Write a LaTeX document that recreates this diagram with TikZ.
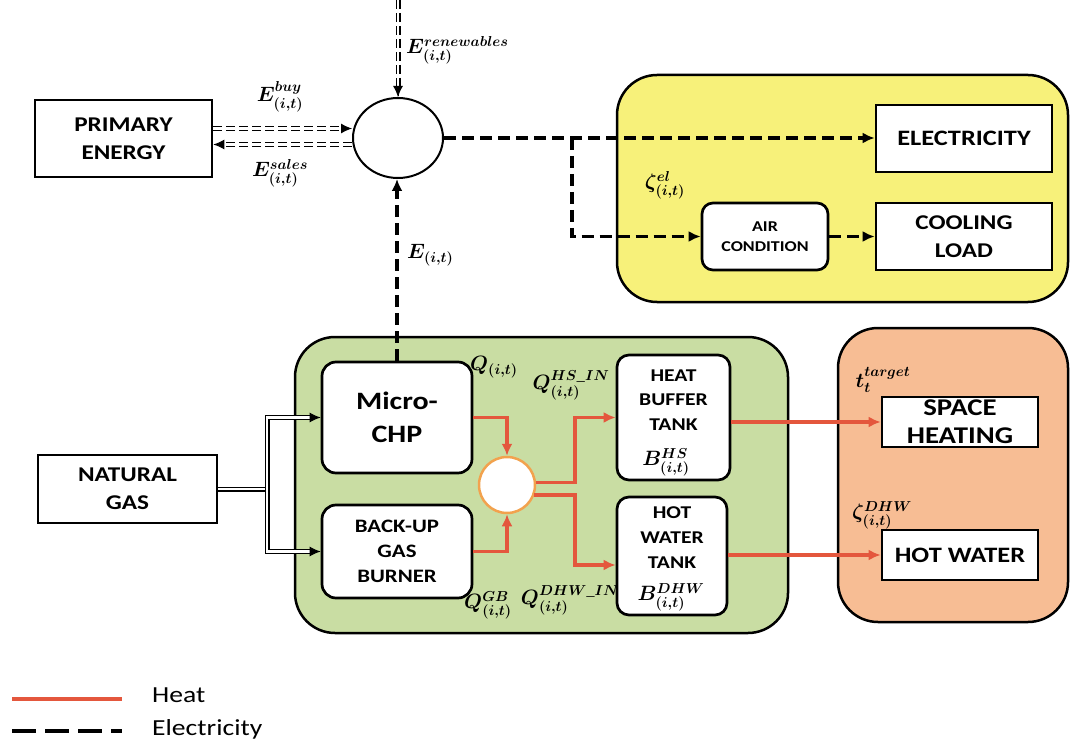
\documentclass[tikz,border=0pt]{standalone}
\usepackage{amsmath}
\usepackage{fontspec}
\setmainfont{Carlito}[FakeStretch=1.2]
\usetikzlibrary{arrows.meta,shapes.geometric,calc}
\definecolor{yellowbg}{HTML}{F7F17A}
\definecolor{greenbg}{HTML}{C9DDA3}
\definecolor{orangebg}{HTML}{F7BD94}
\definecolor{heatred}{HTML}{E4573D}
\definecolor{mixorange}{HTML}{F2A24E}
\tikzset{
  container/.style={draw=black, line width=2.5pt, rounded corners=40pt, inner sep=0pt},
  box/.style={draw=black, line width=2.7pt, fill=white, align=center, inner sep=0pt,
    font=\bfseries\fontsize{21}{28}\selectfont},
  rbox/.style={box, rounded corners=14pt},
  el/.style={draw=black, line width=3.5pt, dash pattern=on 12pt off 6pt},
  elarrow/.style={el, -{Latex[length=12pt,width=11pt]}},
  eld/.style={draw=black, line width=1.2pt, double=white, double distance=2.6pt, dash pattern=on 9pt off 4pt},
  gas/.style={draw=black, line width=1.2pt, double=white, double distance=2.6pt},
  tipa/.style={draw=black, line width=1pt, -{Latex[length=11pt,width=10pt]}},
  heat/.style={draw=heatred, line width=3.5pt, -{Latex[length=12pt,width=11pt]}},
  lab/.style={font=\boldmath\fontsize{20}{22}\selectfont, inner sep=0pt},
  legtext/.style={anchor=west, inner sep=0pt, font=\fontsize{23}{26}\selectfont},
}
\begin{document}
\begin{tikzpicture}[x=1pt,y=-1pt]
\useasboundingbox (0,0) rectangle (1073,743);
% containers
\node[container, fill=yellowbg, minimum width=451pt, minimum height=227pt] (ybox) at (842.5,188.5) {};
\node[container, fill=greenbg, minimum width=493pt, minimum height=296pt] (gbox) at (541.5,485) {};
\node[container, fill=orangebg, minimum width=230pt, minimum height=294pt] (obox) at (953,475) {};
% boxes
\node[box, minimum width=177pt, minimum height=77pt] (pe) at (123.5,138.5) {PRIMARY\\ENERGY};
\node[box, minimum width=179pt, minimum height=68pt] (ng) at (127.5,489) {NATURAL\\GAS};
\node[draw=black, line width=2pt, ellipse, fill=white, minimum width=90pt, minimum height=80pt, inner sep=0pt] (hub) at (398,138) {};
\node[box, minimum width=176pt, minimum height=67pt, font=\bfseries\fontsize{22}{28}\selectfont] (elec) at (964,138.5) {ELECTRICITY};
\node[box, minimum width=176pt, minimum height=67pt] (cool) at (964,236.5) {COOLING\\LOAD};
\node[rbox, minimum width=126pt, minimum height=67pt, rounded corners=11pt,
  font=\bfseries\fontsize{15}{20}\selectfont] (ac) at (765,236.5) {AIR\\CONDITION};
\node[rbox, minimum width=150pt, minimum height=111pt, font=\bfseries\fontsize{25}{33}\selectfont] (mchp) at (397,417.5) {Micro-\\CHP};
\node[rbox, minimum width=150pt, minimum height=93pt, font=\bfseries\fontsize{19}{25}\selectfont] (bgb) at (397,551.5) {BACK-UP\\GAS\\BURNER};
\node[circle, draw=mixorange, line width=2.5pt, fill=white, minimum size=56pt, inner sep=0pt] (mix) at (507,485) {};
\node[rbox, minimum width=113pt, minimum height=125pt, rounded corners=12pt] (hbt) at (673.5,417.5) {};
\node[inner sep=0pt, align=center, font=\bfseries\fontsize{18}{24.5}\selectfont] (hbtt) at (673.5,400) {HEAT\\BUFFER\\TANK};
\node[rbox, minimum width=110pt, minimum height=118pt, rounded corners=12pt] (hwt) at (672,556) {};
\node[inner sep=0pt, align=center, font=\bfseries\fontsize{18}{25}\selectfont] (hwtt) at (672,538) {HOT\\WATER\\TANK};
\node[box, minimum width=156pt, minimum height=50pt, font=\bfseries\fontsize{24}{28}\selectfont] (sh) at (960,422) {SPACE\\HEATING};
\node[box, minimum width=156pt, minimum height=50pt, font=\bfseries\fontsize{22}{28}\selectfont] (hw) at (960,555) {HOT WATER};
% electricity connections
\coordinate (rtop) at (398,0);
\draw[eld, shorten >=9pt] (rtop) -- (hub.north);
\draw[tipa] ([yshift=1pt]hub.north) -- (hub.north);
\coordinate (b1) at ([yshift=10pt]pe.east);
\coordinate (b2) at (b1 -| hub.west);
\draw[eld, shorten >=9pt] (b1) -- (b2);
\draw[tipa] ([xshift=-1pt]b2) -- (b2);
\coordinate (s1) at ([yshift=-6pt]pe.east);
\coordinate (s2) at (s1 -| hub.west);
\draw[eld, shorten >=9pt] (s2) -- (s1);
\draw[tipa] ([xshift=1pt]s1) -- (s1);
\draw[elarrow] (mchp.north) -- (mchp.north |- hub.south);
\draw[elarrow] (hub.east) -- (hub.east -| elec.west);
\coordinate (br) at (572,138);
\draw[elarrow] (br) |- (ac.west);
\draw[elarrow] (ac.east) -- (cool.west);
% gas
\coordinate (gj) at (267,489);
\draw[gas] (ng.east) -- (gj);
\draw[gas, shorten >=9pt] (gj) |- (mchp.west);
\draw[tipa] ([xshift=-1pt]mchp.west) -- (mchp.west);
\draw[gas, shorten >=9pt] (gj) |- (bgb.west);
\draw[tipa] ([xshift=-1pt]bgb.west) -- (bgb.west);
% heat
\draw[heat] (mchp.east) -| (mix.north);
\draw[heat] (bgb.east) -| (mix.south);
\coordinate (j1) at (575,0);
\draw[heat] (mix.5) -- (mix.5 -| j1) |- (hbt.west);
\coordinate (hwin) at ([yshift=-9pt]hwt.west);
\draw[heat] (mix.-20) -- (mix.-20 -| j1) |- (hwin);
\draw[heat] (hbt.east |- sh.west) -- (sh.west);
\draw[heat] (hwt.east |- hw.west) -- (hw.west);
% labels
\node[lab, anchor=west] (lren) at (406,50) {$E^{renewables}_{(i,t)}$};
\node[lab] (lbuy) at (280,97) {$E^{buy}_{(i,t)}$};
\node[lab] (lsal) at (280,173) {$E^{sales}_{(i,t)}$};
\node[lab, anchor=west] (lE) at (407,255) {$E_{(i,t)}$};
\node[lab] (lzel) at (665,185) {$\zeta^{el}_{(i,t)}$};
\node[lab, anchor=west] (lQ) at (470,367) {$Q_{(i,t)}$};
\node[lab] (lQhs) at (571,385) {$Q^{HS\_IN}_{(i,t)}$};
\node[lab] (lQgb) at (488,605) {$Q^{GB}_{(i,t)}$};
\node[lab] (lQdhw) at (570,600) {$Q^{DHW\_IN}_{(i,t)}$};
\node[lab] (lBhs) at (666,462) {$B^{HS}_{(i,t)}$};
\node[lab] (lBdhw) at (671,597) {$B^{DHW}_{(i,t)}$};
\node[lab] (ltt) at (883,380) {$t^{target}_{t}$};
\node[lab] (lzdhw) at (882,515) {$\zeta^{DHW}_{(i,t)}$};
% legend
\coordinate (lh1) at (12,699);
\coordinate (lh2) at (122,699);
\draw[draw=heatred, line width=3.5pt] (lh1) -- (lh2);
\node[legtext] (lht) at (152,695) {Heat};
\coordinate (le1) at (12,731);
\coordinate (le2) at (122,731);
\draw[draw=black, line width=4pt, dash pattern=on 24pt off 9pt] (le1) -- (le2);
\node[legtext] (let) at (152,729) {Electricity};
\end{tikzpicture}
\end{document}
